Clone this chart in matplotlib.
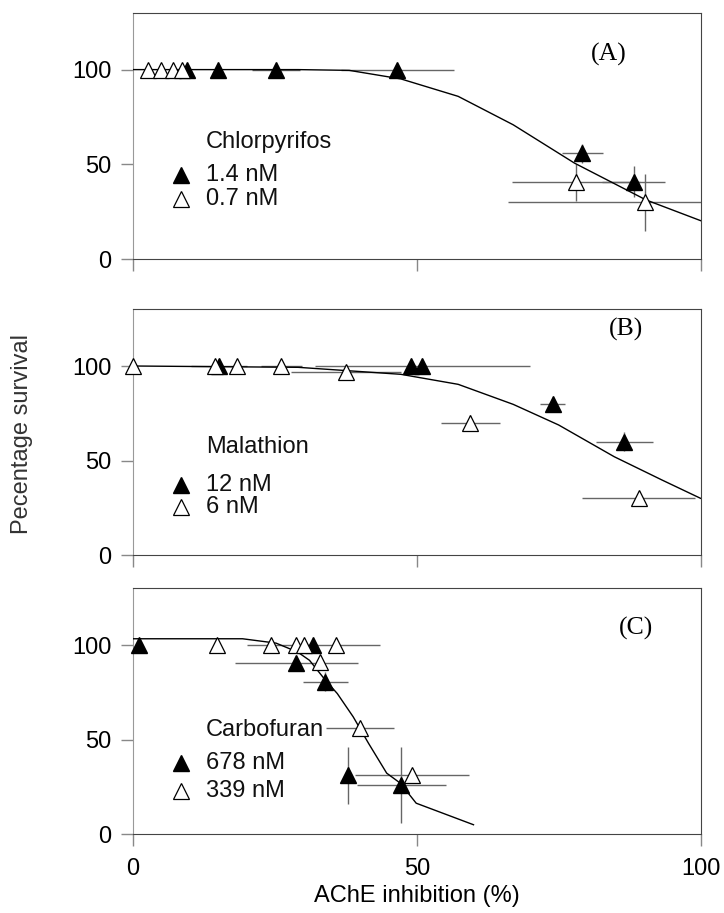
import matplotlib
matplotlib.use('Agg')
import matplotlib.pyplot as plt

plt.rcParams['font.family'] = ['Liberation Sans', 'DejaVu Sans']

# Panel A - Chlorpyrifos
a_fill_x = [9.5, 15.0, 25.2, 46.6, 79.2, 88.2]
a_fill_y = [100, 100, 100, 100, 56, 41]
a_fill_xerr = [0, 0, 4.2, 9.9, 3.6, 5.5]
a_fill_yerr = [0, 0, 0, 0, 5, 8]
a_open_x = [2.6, 5.0, 7.0, 8.6, 78.1, 90.2]
a_open_y = [100, 100, 100, 100, 40.5, 30]
a_open_xerr = [0, 0, 0, 0, 11.3, 24.2]
a_open_yerr = [0, 0, 0, 0, 10, 15]
a_curve_x = [0, 29.1, 38.1, 47.2, 57.3, 67.0, 77.8, 90.4, 100]
a_curve_y = [100, 100, 99.6, 95.1, 85.9, 70.9, 50.7, 31.3, 20.4]

# Panel B - Malathion
b_fill_x = [15.1, 48.9, 51.0, 74.0, 86.6]
b_fill_y = [100, 100, 100, 80, 60]
b_fill_xerr = [4.9, 0, 19, 2.2, 5]
b_fill_yerr = [0, 0, 0, 3, 5]
b_open_x = [0, 14.4, 18.3, 26.1, 37.6, 59.4, 89.1]
b_open_y = [100, 100, 100, 100, 97, 70, 30]
b_open_xerr = [0, 0, 0, 3.6, 9.7, 5.2, 10]
b_open_yerr = [0, 0, 0, 0, 2, 4, 4]
b_curve_x = [0, 29.1, 47.2, 57.3, 67.0, 75.0, 84.8, 93.2, 100]
b_curve_y = [100, 99.3, 95.6, 90.3, 79.7, 68.8, 52.0, 39.7, 30.0]

# Panel C - Carbofuran
c_fill_x = [1.0, 31.8, 28.8, 33.9, 37.9, 47.3]
c_fill_y = [100, 100, 90.5, 80.5, 31, 26]
c_fill_xerr = [0, 11.8, 10.8, 4.0, 0, 7.8]
c_fill_yerr = [0, 0, 0, 5, 15, 20]
c_open_x = [14.8, 24.3, 28.7, 30.1, 35.8, 33.0, 40.0, 49.2]
c_open_y = [100, 100, 100, 100, 100, 91, 56, 31]
c_open_xerr = [0, 0, 0, 0, 0, 0, 6, 10]
c_open_yerr = [0, 0, 0, 0, 0, 0, 0, 3]
c_curve_x = [0, 19.3, 25.2, 29.0, 31.1, 33.9, 36.0, 38.8, 41.5, 44.7, 47.1, 49.9, 60.0]
c_curve_y = [103.3, 103.3, 101.0, 96.3, 91.9, 81.4, 74.3, 62.0, 48.0, 32.2, 26.9, 16.3, 4.9]

panels = [
    dict(tag='(A)', tag_xy=(83.9, 108), name='Chlorpyrifos', doses=['1.4 nM', '0.7 nM'],
         leg_y=[62, 44.5, 31.7],
         fill=(a_fill_x, a_fill_y, a_fill_xerr, a_fill_yerr),
         open=(a_open_x, a_open_y, a_open_xerr, a_open_yerr),
         curve=(a_curve_x, a_curve_y)),
    dict(tag='(B)', tag_xy=(86.9, 119.5), name='Malathion', doses=['12 nM', '6 nM'],
         leg_y=[57.3, 37, 25.6],
         fill=(b_fill_x, b_fill_y, b_fill_xerr, b_fill_yerr),
         open=(b_open_x, b_open_y, b_open_xerr, b_open_yerr),
         curve=(b_curve_x, b_curve_y)),
    dict(tag='(C)', tag_xy=(88.7, 108.6), name='Carbofuran', doses=['678 nM', '339 nM'],
         leg_y=[55, 37.4, 22.5],
         fill=(c_fill_x, c_fill_y, c_fill_xerr, c_fill_yerr),
         open=(c_open_x, c_open_y, c_open_xerr, c_open_yerr),
         curve=(c_curve_x, c_curve_y)),
]

W, H = 724, 913
fig = plt.figure(figsize=(W / 100, H / 100), dpi=100)

# axes boxes in pixels: (top, bottom)
boxes = [(12.7, 259.3), (309.3, 555.0), (588.3, 834.0)]
left, right = 133, 700.5

for i, (p, (top, bot)) in enumerate(zip(panels, boxes)):
    ax = fig.add_axes([left / W, 1 - bot / H, (right - left) / W, (bot - top) / H])
    ax.set_xlim(0, 100)
    ax.set_ylim(0, 130)
    ax.set_xticks([0, 50, 100])
    ax.set_yticks([0, 50, 100])
    ax.tick_params(direction='out', length=8.6, width=1, color='#888888',
                   labelsize=17, pad=7)
    ax.tick_params(axis='x', pad=9)
    if i < 2:
        ax.set_xticklabels([])
    for s in ['top', 'right', 'bottom']:
        ax.spines[s].set_color('#444444')
    ax.spines['left'].set_color('#999999')

    # error bars
    for data in (p['fill'], p['open']):
        x, y, xe, ye = data
        ax.errorbar(x, y, xerr=xe, yerr=ye, fmt='none', ecolor='#666666',
                    elinewidth=1, capsize=0, zorder=2)

    cx, cy = p['curve']
    ax.plot(cx, cy, color='black', lw=1, zorder=3)

    fx, fy = p['fill'][0], p['fill'][1]
    ox, oy = p['open'][0], p['open'][1]
    ax.plot(fx, fy, '^', ms=11, mfc='black', mec='black', mew=1, ls='none',
            zorder=4, clip_on=False)
    ax.plot(ox, oy, '^', ms=11, mfc='white', mec='black', mew=0.9, ls='none',
            zorder=5, clip_on=False)

    # legend written in the panel
    ax.text(12.9, p['leg_y'][0], p['name'], fontsize=17, va='center', ha='left', color='#111111')
    ax.plot([8.5], [p['leg_y'][1]], '^', ms=11, mfc='black', mec='black', mew=1)
    ax.text(12.9, p['leg_y'][1], p['doses'][0], fontsize=17, va='center', ha='left', color='#111111')
    ax.plot([8.5], [p['leg_y'][2]], '^', ms=11, mfc='white', mec='black', mew=0.9)
    ax.text(12.9, p['leg_y'][2], p['doses'][1], fontsize=17, va='center', ha='left', color='#111111')

    ax.text(p['tag_xy'][0], p['tag_xy'][1], p['tag'], fontsize=18.5, ha='center', va='center',
            family='Liberation Serif')

fig.text(22 / W, 1 - 434 / H, 'Pecentage survival', rotation=90, fontsize=17,
         ha='center', va='center', color='#333333')
fig.text((left + right) / 2 / W, 1 - 896 / H, 'AChE inhibition (%)', fontsize=17,
         ha='center', va='center')

fig.savefig('out.png', dpi=100)
